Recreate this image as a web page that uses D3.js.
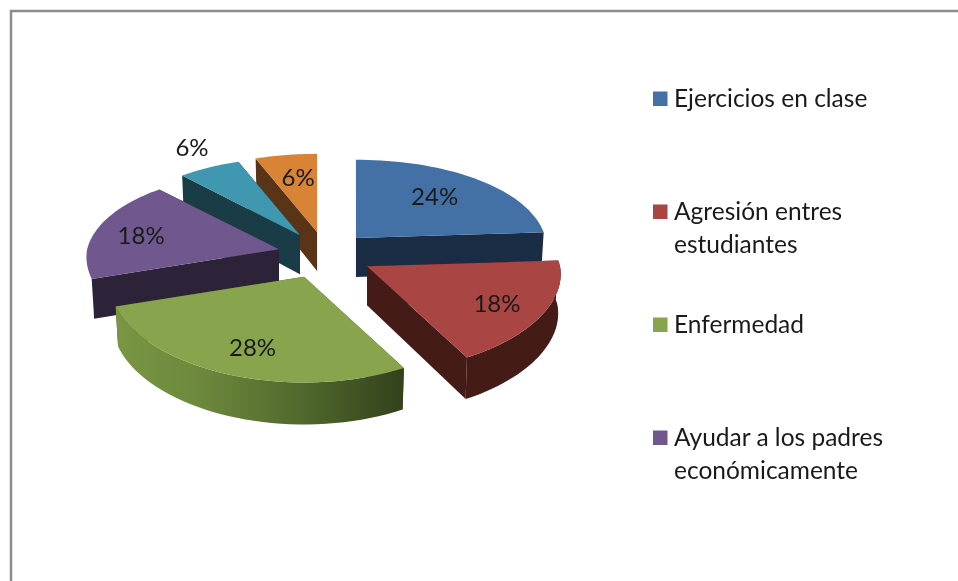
<!DOCTYPE html>
<html>
<head>
<meta charset="utf-8">
<script src="https://cdn.jsdelivr.net/npm/d3@7"></script>
<style>
	html, body { margin:0; padding:0; background:#fff; overflow:hidden; }
	svg { display:block; font-family:Lato, "Open Sans", sans-serif; fill:#1a1a1a; filter:blur(0.5px); }
</style>
</head>
<body>
<div id="c-svg"></div>
<script>
//storing values in small arrays
let sliceNames = ["Ejercicios en clase", "Agresión entres estudiantes", "Enfermedad", "Ayudar a los padres económicamente", "Otros 1", "Otros 2"];
let sliceValues = [24, 18, 28, 18, 6, 6];
let legendLines = [["Ejercicios en clase"], ["Agresión entres", "estudiantes"], ["Enfermedad"], ["Ayudar a los padres", "económicamente"]];

//sizing
let width = 958;
let height = 581;

let center = {x:323.5, y:255};
let explode = 46.7;
let depth = 39;

let svg = d3.select("#c-svg")
	.append("svg")
	.attr("width", width)
	.attr("height", height);

//frame around the chart
svg.append("path")
	.attr("d", `M11,${height} V11 H${width}`)
	.attr("fill", "none")
	.attr("stroke", "#8c8c8c")
	.attr("stroke-width", 2.5);

//colors by slice
let topColors = d3.scaleOrdinal().domain(sliceNames).range(["#4371a6", "#a94543", "#88a54e", "#70588e", "#4097b0", "#d98337"]);
let sideColors = d3.scaleOrdinal().domain(sliceNames).range(["#1a2d45", "#451b18", "#3f5220", "#2d2339", "#193c47", "#5a3416"]);

//small corrections of the exploded tips
let tipNudge = d3.scaleOrdinal().domain(sliceNames).range([0.5, 2.6, -2.3, 0.7, 1.5, 2.3]);

//how far the label sits from the tip of the slice
let labelRadius = d3.scaleOrdinal().domain(sliceNames).range([0.63, 0.76, 0.75, 0.72, 1.24, 0.6]);
let labelNudge = d3.scaleOrdinal().domain(sliceNames).range([[1.5, -2], [-2.6, 2], [5, 0], [-7, 3], [1.5, -6], [0.7, -5]]);

//ground plane to screen, front of the pie is a bit bigger
let xScale = d3.scaleLinear().domain([-1, 1]).range([-193, 193]);
let yScale = d3.scaleLinear().domain([-1, 1]).range([-92, 92]);

function project(angle, radius, tip, low){
	let gx = Math.sin(angle) * radius;
	let gy = -Math.cos(angle) * radius;
	let shrink = low ? 0.987 : 1;
	let grow = gy < 0 ? 0.12 : 0.085;
	return [
		tip.x + xScale(gx) * (1 + grow * gy + 0.1 * Math.min(tip.gy, 0)) * shrink,
		tip.y + yScale(gy) * (1 + 0.15 * gy) + (low ? depth + 3 * gy : 0)
	];
}

let pie = d3.pie().sort(null)(sliceValues);
let line = d3.line();

let slices = pie.map((d)=>{
	let mid = (d.startAngle + d.endAngle) / 2;
	let name = sliceNames[d.index];
	let tip = {
		x: center.x + Math.sin(mid) * explode + tipNudge(name),
		y: center.y - Math.cos(mid) * explode * 0.5,
		gy: -Math.cos(mid) * explode / 190
	};
	let angles = d3.range(0, 41).map((i)=>{ return d.startAngle + (d.endAngle - d.startAngle) * i / 40; });
	return {name: name, value: d.value, mid: mid, tip: tip, angles: angles};
});

//green wall gets the light from the left
let greenSlice = slices[2];
let gradient = svg.append("defs").append("linearGradient")
	.attr("id", "green-wall")
	.attr("gradientUnits", "userSpaceOnUse")
	.attr("x1", project(greenSlice.angles[40], 1, greenSlice.tip, true)[0])
	.attr("x2", project(greenSlice.angles[0], 1, greenSlice.tip, true)[0])
	.attr("y1", 0)
	.attr("y2", 0);
gradient.selectAll("stop")
	.data([["0%", "#789643"], ["30%", "#6c883c"], ["65%", "#50682c"], ["100%", "#33421b"]])
	.enter()
	.append("stop")
	.attr("offset", (d)=>{ return d[0]; })
	.attr("stop-color", (d)=>{ return d[1]; });

//back slices first
let drawOrder = [5, 4, 3, 0, 2, 1];

drawOrder.forEach((i)=>{
	let s = slices[i];
	let g = svg.append("g").attr("class", "slice");
	let a0 = s.angles[0];
	let a1 = s.angles[40];

	//flat walls
	[a0, a1].forEach((a)=>{
		g.append("path")
			.attr("d", line([
				project(a, 0, s.tip, false),
				project(a, 1, s.tip, false),
				project(a, 1, s.tip, true),
				project(a, 0, s.tip, true)
			]) + "Z")
			.attr("fill", sideColors(s.name));
	});

	let up = s.angles.map((a)=>{ return project(a, 1, s.tip, false); });

	//round wall, only for slices that look to the front
	if (Math.cos(s.mid) < 0) {
		let down = s.angles.map((a)=>{ return project(a, 1, s.tip, true); }).reverse();
		g.append("path")
			.attr("d", line(up.concat(down)) + "Z")
			.attr("fill", i == 2 ? "url(#green-wall)" : sideColors(s.name));
	}

	//top of the slice
	g.append("path")
		.attr("d", line([project(0, 0, s.tip, false)].concat(up)) + "Z")
		.attr("fill", topColors(s.name));
});

//percent labels
svg.selectAll(".pct")
	.data(slices)
	.enter()
	.append("text")
	.attr("class", "pct")
	.attr("x", (d)=>{ return project(d.mid, labelRadius(d.name), d.tip, false)[0] + labelNudge(d.name)[0]; })
	.attr("y", (d)=>{ return project(d.mid, labelRadius(d.name), d.tip, false)[1] + 8 + labelNudge(d.name)[1]; })
	.attr("text-anchor", "middle")
	.attr("font-size", 24)
	.text((d)=>{ return d.value + "%"; });

//legend
let legendY = d3.scalePoint().domain(d3.range(legendLines.length)).range([107, 446]);
let legend = svg.selectAll(".legend")
	.data(legendLines)
	.enter()
	.append("g")
	.attr("class", "legend")
	.attr("transform", (d, i)=>{ return `translate(0,${legendY(i)})`; });

legend.append("rect")
	.attr("x", 653)
	.attr("y", -15.5)
	.attr("width", 14.5)
	.attr("height", 14.5)
	.attr("fill", (d, i)=>{ return topColors(sliceNames[i]); });

legend.selectAll("text")
	.data((d)=>{ return d; })
	.enter()
	.append("text")
	.attr("x", 674)
	.attr("y", (d, i)=>{ return i * 33; })
	.attr("font-size", 24.5)
	.text((d)=>{ return d; });
</script>
</body>
</html>
